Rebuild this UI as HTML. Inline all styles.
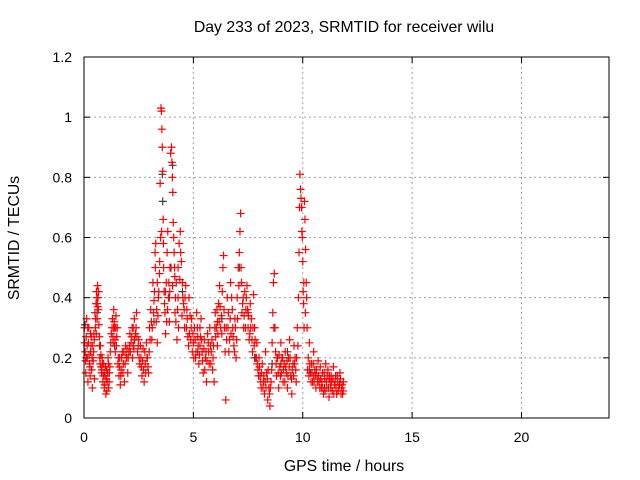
<!DOCTYPE html>
<html><head><meta charset="utf-8"><style>
html,body{margin:0;padding:0;background:#fff}
svg{display:block;font-family:"Liberation Sans",sans-serif}
</style></head><body>
<svg id="chart" width="640" height="480" viewBox="0 0 640 480">
<rect x="0" y="0" width="640" height="480" fill="#fff"/>
<text x="344" y="32" text-anchor="middle" font-size="15.8" fill="#000">Day 233 of 2023, SRMTID for receiver wilu</text>
<text x="0" y="0" transform="translate(19,238) rotate(-90)" text-anchor="middle" font-size="15.8" fill="#000">SRMTID / TECUs</text>
<text x="344" y="471" text-anchor="middle" font-size="15.8" fill="#000">GPS time / hours</text>
<g id="grid"></g>
<g id="ticks"></g>
<g id="gray"></g>
<g id="red"></g>
<rect x="84" y="57" width="525" height="361" fill="none" stroke="#000" stroke-width="1"/>
</svg>
<script>
const xTicks = [0, 5, 10, 15, 20];
const yTicks = [0, 0.2, 0.4, 0.6, 0.8, 1, 1.2];
const yTickLabels = ["0", "0.2", "0.4", "0.6", "0.8", "1", "1.2"];
const xDomain = [0, 24];
const yDomain = [0, 1.2];
const redPoints = [
[0.02,0.3],[0.05,0.22],[0.08,0.15],[0.1,0.27],[0.12,0.33],[0.15,0.2],[0.18,0.12],[0.2,0.25],[0.22,0.3],[0.25,0.18],
[0.28,0.14],[0.3,0.22],[0.33,0.27],[0.35,0.16],[0.38,0.1],[0.4,0.24],[0.42,0.19],[0.45,0.28],[0.48,0.13],[0.5,0.35],
[0.52,0.3],[0.55,0.38],[0.57,0.42],[0.6,0.33],[0.62,0.44],[0.64,0.4],[0.66,0.36],[0.68,0.31],[0.7,0.27],[0.72,0.2],
[0.75,0.24],[0.78,0.17],[0.8,0.15],[0.83,0.2],[0.86,0.12],[0.9,0.18],[0.93,0.1],[0.96,0.14],[1.0,0.08],[1.03,0.16],
[1.06,0.12],[1.1,0.2],[1.13,0.1],[1.16,0.15],
[1.2,0.22],[1.25,0.28],[1.3,0.33],[1.33,0.25],[1.36,0.36],[1.4,0.3],[1.43,0.22],[1.46,0.34],[1.5,0.27],[1.55,0.18],
[1.6,0.14],[1.63,0.2],[1.66,0.11],[1.7,0.16],[1.75,0.22],[1.8,0.18],[1.85,0.12],[1.9,0.24],[1.95,0.2],[2.0,0.15],
[2.05,0.22],[2.1,0.28],[2.15,0.25],[2.2,0.3],[2.25,0.24],[2.3,0.33],[2.35,0.28],[2.4,0.35],[2.45,0.22],[2.5,0.26],
[2.55,0.18],[2.6,0.2],[2.65,0.14],[2.7,0.23],[2.75,0.12],[2.8,0.18],[2.85,0.25],[2.9,0.2],[2.95,0.15],[3.0,0.3],
[3.05,0.36],[3.1,0.26],[3.15,0.45],[3.2,0.39],[3.25,0.55],[3.28,0.58],[3.3,0.32],[3.35,0.25],[3.4,0.4],[3.45,0.48],
[3.48,0.78],[3.5,0.6],[3.52,1.03],[3.54,1.02],[3.56,0.96],[3.58,0.9],[3.6,0.82],[3.62,0.66],[3.64,0.5],[3.66,0.42],
[3.7,0.35],[3.73,0.28],[3.76,0.45],[3.8,0.55],[3.83,0.62],[3.86,0.4],[3.9,0.32],[3.93,0.5],[3.96,0.88],[4.0,0.9],
[4.02,0.85],[4.04,0.8],[4.06,0.75],[4.08,0.65],[4.1,0.6],[4.12,0.55],[4.15,0.47],[4.18,0.4],[4.2,0.32],[4.25,0.26],
[4.3,0.5],[4.35,0.58],[4.4,0.62],[4.45,0.52],[4.5,0.45],[4.55,0.38],[4.6,0.3],[4.65,0.44],[4.7,0.36],[4.75,0.27],
[4.8,0.4],[4.85,0.34],[4.9,0.3],[4.95,0.22],[5.0,0.25],[5.05,0.3],[5.1,0.2],[5.15,0.35],[5.2,0.27],[5.25,0.18],
[5.3,0.24],[5.35,0.33],[5.4,0.22],[5.45,0.15],[5.5,0.26],[5.55,0.2],[5.6,0.12],[5.65,0.28],[5.7,0.22],[5.75,0.3],
[5.8,0.18],[5.85,0.26],[5.9,0.2],[5.95,0.12],[6.0,0.35],[6.05,0.3],[6.1,0.24],[6.15,0.38],[6.2,0.44],[6.25,0.3],
[6.3,0.28],[6.35,0.5],[6.38,0.54],[6.4,0.36],[6.45,0.22],[6.48,0.06],[6.5,0.3],[6.55,0.4],[6.6,0.35],[6.65,0.26],
[6.7,0.45],[6.75,0.4],[6.8,0.3],[6.85,0.24],[6.9,0.33],[6.95,0.2],[7.0,0.4],[7.05,0.5],[7.1,0.55],[7.13,0.62],
[7.16,0.68],[7.2,0.45],[7.25,0.38],[7.3,0.3],[7.35,0.42],[7.4,0.36],[7.45,0.44],[7.5,0.3],[7.55,0.26],[7.6,0.38],
[7.65,0.33],[7.7,0.22],[7.75,0.41],[7.8,0.3],[7.85,0.2],[7.9,0.25],[7.95,0.16],[8.0,0.2],[8.05,0.14],[8.1,0.1],
[8.15,0.18],[8.2,0.12],[8.25,0.08],[8.3,0.22],[8.35,0.15],[8.4,0.06],[8.45,0.1],[8.5,0.04],[8.55,0.12],[8.6,0.25],
[8.63,0.35],[8.66,0.45],[8.7,0.48],[8.73,0.3],[8.76,0.22],[8.8,0.14],[8.85,0.2],[8.9,0.1],[8.95,0.17],[9.0,0.25],
[9.05,0.2],[9.1,0.12],[9.15,0.18],[9.2,0.22],[9.25,0.15],[9.3,0.1],[9.35,0.2],[9.4,0.26],[9.45,0.14],[9.5,0.08],
[9.55,0.18],[9.6,0.24],[9.65,0.2],[9.7,0.12],[9.75,0.3],[9.8,0.4],[9.83,0.55],[9.85,0.7],[9.87,0.81],[9.9,0.76],
[9.92,0.73],[9.94,0.7],[9.96,0.62],[9.98,0.6],[10.0,0.52],[10.02,0.42],[10.04,0.38],[10.06,0.3],[10.08,0.72],[10.1,0.66],
[10.13,0.56],[10.16,0.45],[10.2,0.3],[10.25,0.2],[10.3,0.25],[10.35,0.15],[10.4,0.18],[10.45,0.12],[10.5,0.22],[10.55,0.16],
[10.6,0.1],[10.65,0.14],[10.7,0.19],[10.75,0.12],[10.8,0.17],[10.85,0.1],[10.9,0.15],[10.95,0.08],[11.0,0.13],[11.05,0.18],
[11.1,0.1],[11.15,0.16],[11.2,0.07],[11.25,0.12],[11.3,0.14],[11.35,0.09],[11.4,0.17],[11.45,0.11],[11.5,0.14],[11.55,0.08],
[11.6,0.12],[11.65,0.1],[11.7,0.15],[11.75,0.08],[11.8,0.11],[11.85,0.09],
[0.1,0.2],[0.3,0.28],[0.6,0.38],[1.35,0.3],[2.25,0.3],[3.35,0.45],[4.3,0.4],[5.3,0.3],[6.1,0.32],[7.5,0.35],[9.0,0.18],[10.5,0.14],[11.2,0.13],
[0.03,0.25],[0.07,0.19],[0.14,0.24],[0.17,0.3],[0.23,0.21],[0.27,0.17],[0.32,0.24],[0.37,0.2],[0.44,0.22],[0.47,0.26],
[0.53,0.33],[0.56,0.28],[0.59,0.4],[0.63,0.37],[0.67,0.42],[0.71,0.24],[0.74,0.18],[0.77,0.21],[0.82,0.16],[0.85,0.18],
[0.88,0.14],[0.92,0.15],[0.95,0.11],[0.98,0.17],[1.02,0.13],[1.05,0.09],[1.08,0.15],[1.12,0.18],[1.15,0.12],[1.18,0.17],
[1.22,0.25],[1.28,0.3],[1.32,0.27],[1.38,0.32],[1.42,0.26],[1.45,0.3],[1.48,0.24],[1.52,0.3],[1.57,0.2],[1.62,0.17],
[1.68,0.14],[1.72,0.2],[1.78,0.15],[1.82,0.22],[1.88,0.18],[1.92,0.21],[1.97,0.23],[2.02,0.2],[2.08,0.24],[2.12,0.22],
[2.18,0.27],[2.22,0.2],[2.28,0.23],[2.32,0.26],[2.38,0.3],[2.42,0.27],[2.48,0.24],[2.52,0.2],[2.58,0.24],[2.62,0.17],
[2.68,0.19],[2.72,0.16],[2.78,0.22],[2.82,0.15],[2.88,0.2],[2.92,0.17],[2.98,0.22],[3.02,0.26],[3.08,0.32],[3.12,0.3],
[3.18,0.35],[3.22,0.42],[3.26,0.5],[3.32,0.36],[3.38,0.34],[3.42,0.42],[3.46,0.52],[3.55,0.62],[3.63,0.58],[3.68,0.38],
[3.72,0.42],[3.78,0.32],[3.82,0.36],[3.88,0.45],[3.92,0.42],[3.98,0.5],[4.05,0.44],[4.14,0.5],[4.16,0.35],[4.22,0.45],
[4.28,0.36],[4.32,0.3],[4.38,0.46],[4.42,0.55],[4.48,0.34],[4.52,0.4],[4.58,0.36],[4.62,0.4],[4.68,0.3],[4.72,0.33],
[4.78,0.24],[4.82,0.28],[4.88,0.26],[4.92,0.33],[4.98,0.28],[5.02,0.2],[5.08,0.26],[5.12,0.22],[5.18,0.3],[5.22,0.24],
[5.28,0.21],[5.32,0.27],[5.38,0.26],[5.42,0.19],[5.48,0.23],[5.52,0.16],[5.58,0.22],[5.62,0.19],[5.68,0.25],[5.72,0.18],
[5.78,0.24],[5.82,0.22],[5.88,0.16],[5.92,0.24],[5.98,0.3],[6.02,0.27],[6.08,0.36],[6.12,0.28],[6.18,0.32],[6.22,0.37],
[6.28,0.34],[6.32,0.42],[6.42,0.3],[6.52,0.26],[6.58,0.3],[6.62,0.22],[6.68,0.33],[6.72,0.28],[6.78,0.36],[6.82,0.27],
[6.88,0.22],[6.92,0.3],[6.98,0.26],[7.02,0.33],[7.08,0.44],[7.18,0.5],[7.22,0.35],[7.28,0.4],[7.32,0.34],[7.38,0.3],
[7.42,0.4],[7.48,0.36],[7.52,0.34],[7.58,0.28],[7.62,0.3],[7.68,0.26],[7.72,0.3],[7.78,0.24],[7.82,0.26],[7.88,0.2],
[7.92,0.18],[7.98,0.14],[8.02,0.17],[8.08,0.12],[8.12,0.15],[8.18,0.1],[8.22,0.14],[8.28,0.12],[8.32,0.1],[8.38,0.13],
[8.42,0.16],[8.48,0.08],[8.52,0.1],[8.58,0.16],[8.68,0.3],[8.78,0.18],[8.82,0.2],[8.88,0.15],[8.92,0.21],[8.98,0.14],
[9.02,0.15],[9.08,0.2],[9.12,0.16],[9.18,0.12],[9.22,0.17],[9.28,0.19],[9.32,0.14],[9.38,0.17],[9.42,0.2],[9.48,0.13],
[9.52,0.16],[9.58,0.14],[9.62,0.18],[9.68,0.16],[9.72,0.2],[9.78,0.24],[10.05,0.45],[10.12,0.35],[10.18,0.4],[10.22,0.16],
[10.28,0.14],[10.32,0.18],[10.38,0.12],[10.42,0.15],[10.48,0.18],[10.52,0.12],[10.58,0.14],[10.62,0.16],[10.68,0.12],[10.72,0.14],
[10.78,0.1],[10.82,0.13],[10.88,0.12],[10.92,0.1],[10.98,0.15],[11.02,0.09],[11.08,0.12],[11.12,0.14],[11.18,0.1],[11.22,0.14],
[11.28,0.1],[11.32,0.12],[11.38,0.13],[11.42,0.08],[11.48,0.12],[11.52,0.1],[11.58,0.14],[11.62,0.09],[11.68,0.11],[11.72,0.13],
[11.78,0.1],[11.82,0.08],[11.86,0.12]
];
const grayPoints = [
[0.05,0.31],[0.6,0.35],[1.4,0.24],[2.3,0.26],[3.2,0.32],[3.58,0.81],[3.6,0.72],[3.9,0.4],[4.05,0.84],[4.5,0.42],
[5.2,0.22],[6.3,0.33],[7.1,0.5],[7.8,0.2],[8.6,0.18],[9.3,0.22],[9.95,0.7],[10.3,0.16],[11.0,0.1],[11.7,0.12]
];
const L=84,R=609,T=57,B=418;
const xs=v=>L+(v-xDomain[0])/(xDomain[1]-xDomain[0])*(R-L);
const ys=v=>B-(v-yDomain[0])/(yDomain[1]-yDomain[0])*(B-T);
const NS="http://www.w3.org/2000/svg";
function mk(tag,attrs,parent){const e=document.createElementNS(NS,tag);for(const k in attrs)e.setAttribute(k,attrs[k]);parent.appendChild(e);return e;}
const grid=document.getElementById('grid'),ticks=document.getElementById('ticks');
xTicks.forEach(t=>{const x=xs(t);
 if(t>xDomain[0]){const g=mk('line',{x1:x,x2:x,y1:T,y2:B,stroke:'#a0a0a0','stroke-dasharray':'2,3'},grid);
 
 }
 mk('line',{x1:x,x2:x,y1:B,y2:B-6,stroke:'#000'},ticks);
 mk('line',{x1:x,x2:x,y1:T,y2:T+6,stroke:'#000'},ticks);
 const tx=mk('text',{x:x,y:B+24,'text-anchor':'middle','font-size':14},ticks);tx.textContent=String(t);
 
 
});
yTicks.forEach((t,i)=>{const y=ys(t);
 if(t>yDomain[0]&&t<yDomain[1]){const g=mk('line',{x1:L,x2:R,y1:y,y2:y,stroke:'#a0a0a0','stroke-dasharray':'2,3'},grid);
 
 }
 mk('line',{x1:L,x2:L+6,y1:y,y2:y,stroke:'#000'},ticks);
 mk('line',{x1:R,x2:R-6,y1:y,y2:y,stroke:'#000'},ticks);
 const tx=mk('text',{x:L-12,y:y+5,'text-anchor':'end','font-size':14},ticks);tx.textContent=yTickLabels[i];
 
 
});
function plus(parent,pts,color,name){pts.forEach(p=>{const x=xs(p[0]),y=ys(p[1]);
 const e=mk('path',{d:`M${x-4},${y}H${x+4}M${x},${y-4}V${y+4}`,stroke:color,'stroke-width':1.2,fill:'none'},parent);
 
 
});}
plus(document.getElementById('gray'),grayPoints,'#404040','secondary-point');
plus(document.getElementById('red'),redPoints,'#ff0000','srmtid-point');
</script>
</body></html>
